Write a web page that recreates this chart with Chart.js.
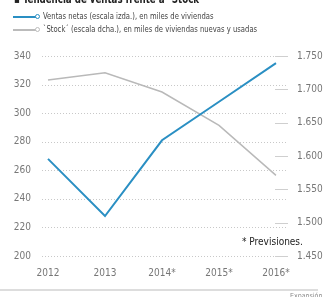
<!DOCTYPE html>
<html>
<head>
<meta charset="utf-8">
<script src="https://cdn.jsdelivr.net/npm/chart.js@4"></script>
<style>
  body { margin: 0; background: #fff; }
  #wrap { position: relative; width: 329px; height: 297px; overflow: hidden; font-family: 'Liberation Sans Narrow', 'DejaVu Sans Condensed', 'Liberation Sans', sans-serif; }
  #chart { position: absolute; left: 0; top: 0; }
  .txt { position: absolute; white-space: nowrap; transform-origin: left top; }
  #title { left: 14px; top: -9px; font-size: 13px; font-weight: bold; color: #222; transform: scaleX(0.74); }
  .leg { left: 13px; font-size: 9.5px; color: #444; }
  .leg b { font-weight: normal; display: inline-block; transform: scaleX(0.8); transform-origin: left center; }
  .mark { display: inline-block; width: 23px; height: 2px; vertical-align: middle; margin-right: 7px; position: relative; }
  .mark:after { content: ''; position: absolute; right: -4px; top: -2px; width: 3px; height: 3px; border-radius: 50%; border: 1px solid; background: #fff; }
  #prev { left: 242px; top: 236px; font-size: 10px; color: #222; }
  #rule { position: absolute; left: 0; top: 289px; width: 318px; height: 2px; background: #ddd; }
  #src { left: 290px; top: 292px; font-size: 7px; color: #888; }
</style>
</head>
<body>
<div id="wrap">
  <canvas id="chart" width="329" height="297"></canvas>
  <div class="txt" id="title">▪ Tendencia de ventas frente a `Stock´</div>
  <div class="txt leg" style="top:10px"><span class="mark" style="background:#2a8fc3;color:#2a8fc3"></span><b>Ventas netas (escala izda.), en miles de viviendas</b></div>
  <div class="txt leg" style="top:23px"><span class="mark" style="background:#bbb;color:#bbb"></span><b>`Stock´ (escala dcha.), en miles de viviendas nuevas y usadas</b></div>
  <div class="txt" id="prev">* Previsiones.</div>
  <div id="rule"></div>
  <div class="txt" id="src">Expansión</div>
</div>
<script>
// data
years = ['2012', '2013', '2014*', '2015*', '2016*']
ventas = [268, 228, 281, 308, 335]      // miles de viviendas, left axis
stock = [1714, 1725, 1696, 1646, 1571]  // miles de viviendas, right axis

leftTicks = [200, 340, 20]     // min, max, step
rightTicks = [1450, 1750, 50]

tickFont = { family: "'Liberation Sans Narrow', 'DejaVu Sans Condensed', sans-serif", size: 10 }

// dotted gridlines a bit wider than the plot, plus short solid marks for the right scale
var extraLines = {
  id: 'extraLines',
  beforeDatasetsDraw: function(chart) {
    var ctx = chart.ctx
    var area = chart.chartArea
    var y = chart.scales.y
    var y1 = chart.scales.y1
    ctx.save()
    ctx.lineWidth = 1
    ctx.strokeStyle = '#c8c8c8'
    ctx.setLineDash([1, 2])
    for (t of y.ticks) {
      var py = Math.round(y.getPixelForValue(t.value)) + 0.5
      ctx.beginPath()
      ctx.moveTo(area.left - 6, py)
      ctx.lineTo(area.right + 11, py)
      ctx.stroke()
    }
    ctx.setLineDash([])
    ctx.strokeStyle = '#cfcfcf'
    for (t of y1.ticks) {
      var py = Math.round(y1.getPixelForValue(t.value)) + 0.5
      ctx.beginPath()
      ctx.moveTo(area.right - 1, py)
      ctx.lineTo(area.right + 12, py)
      ctx.stroke()
    }
    ctx.restore()
  }
}

var chart = new Chart(document.getElementById('chart').getContext('2d'), {
  type: 'line',
  data: {
    labels: years,
    datasets: [{
      label: 'Ventas netas',
      data: ventas,
      yAxisID: 'y',
      borderColor: '#2a8fc3',
      borderWidth: 2,
      pointRadius: 0,
      tension: 0
    }, {
      label: 'Stock',
      data: stock,
      yAxisID: 'y1',
      borderColor: '#b9b9b9',
      borderWidth: 1.5,
      pointRadius: 0,
      tension: 0
    }]
  },
  options: {
    responsive: false,
    animation: false,
    layout: { padding: { top: 56, bottom: 20, left: 0, right: 0 } },
    plugins: { legend: { display: false }, tooltip: { enabled: false } },
    scales: {
      x: {
        offset: false,
        grid: { display: false },
        border: { display: false },
        ticks: { color: '#777', font: tickFont, padding: 3, maxRotation: 0 },
        afterFit: function(s) { s.height = 21 }
      },
      y: {
        position: 'left',
        min: leftTicks[0], max: leftTicks[1],
        grid: { display: false },
        border: { display: false },
        ticks: { stepSize: leftTicks[2], color: '#777', font: tickFont, padding: 9 },
        afterFit: function(s) { s.width = 48 }
      },
      y1: {
        position: 'right',
        min: rightTicks[0], max: rightTicks[1],
        grid: { display: false },
        border: { display: false },
        ticks: {
          stepSize: rightTicks[2], color: '#777', font: tickFont, padding: 13,
          callback: function(v) { return Math.floor(v / 1000) + '.' + String(v % 1000).padStart(3, '0') }
        },
        afterFit: function(s) { s.width = 53 }
      }
    }
  },
  plugins: [extraLines]
})
</script>
</body>
</html>
